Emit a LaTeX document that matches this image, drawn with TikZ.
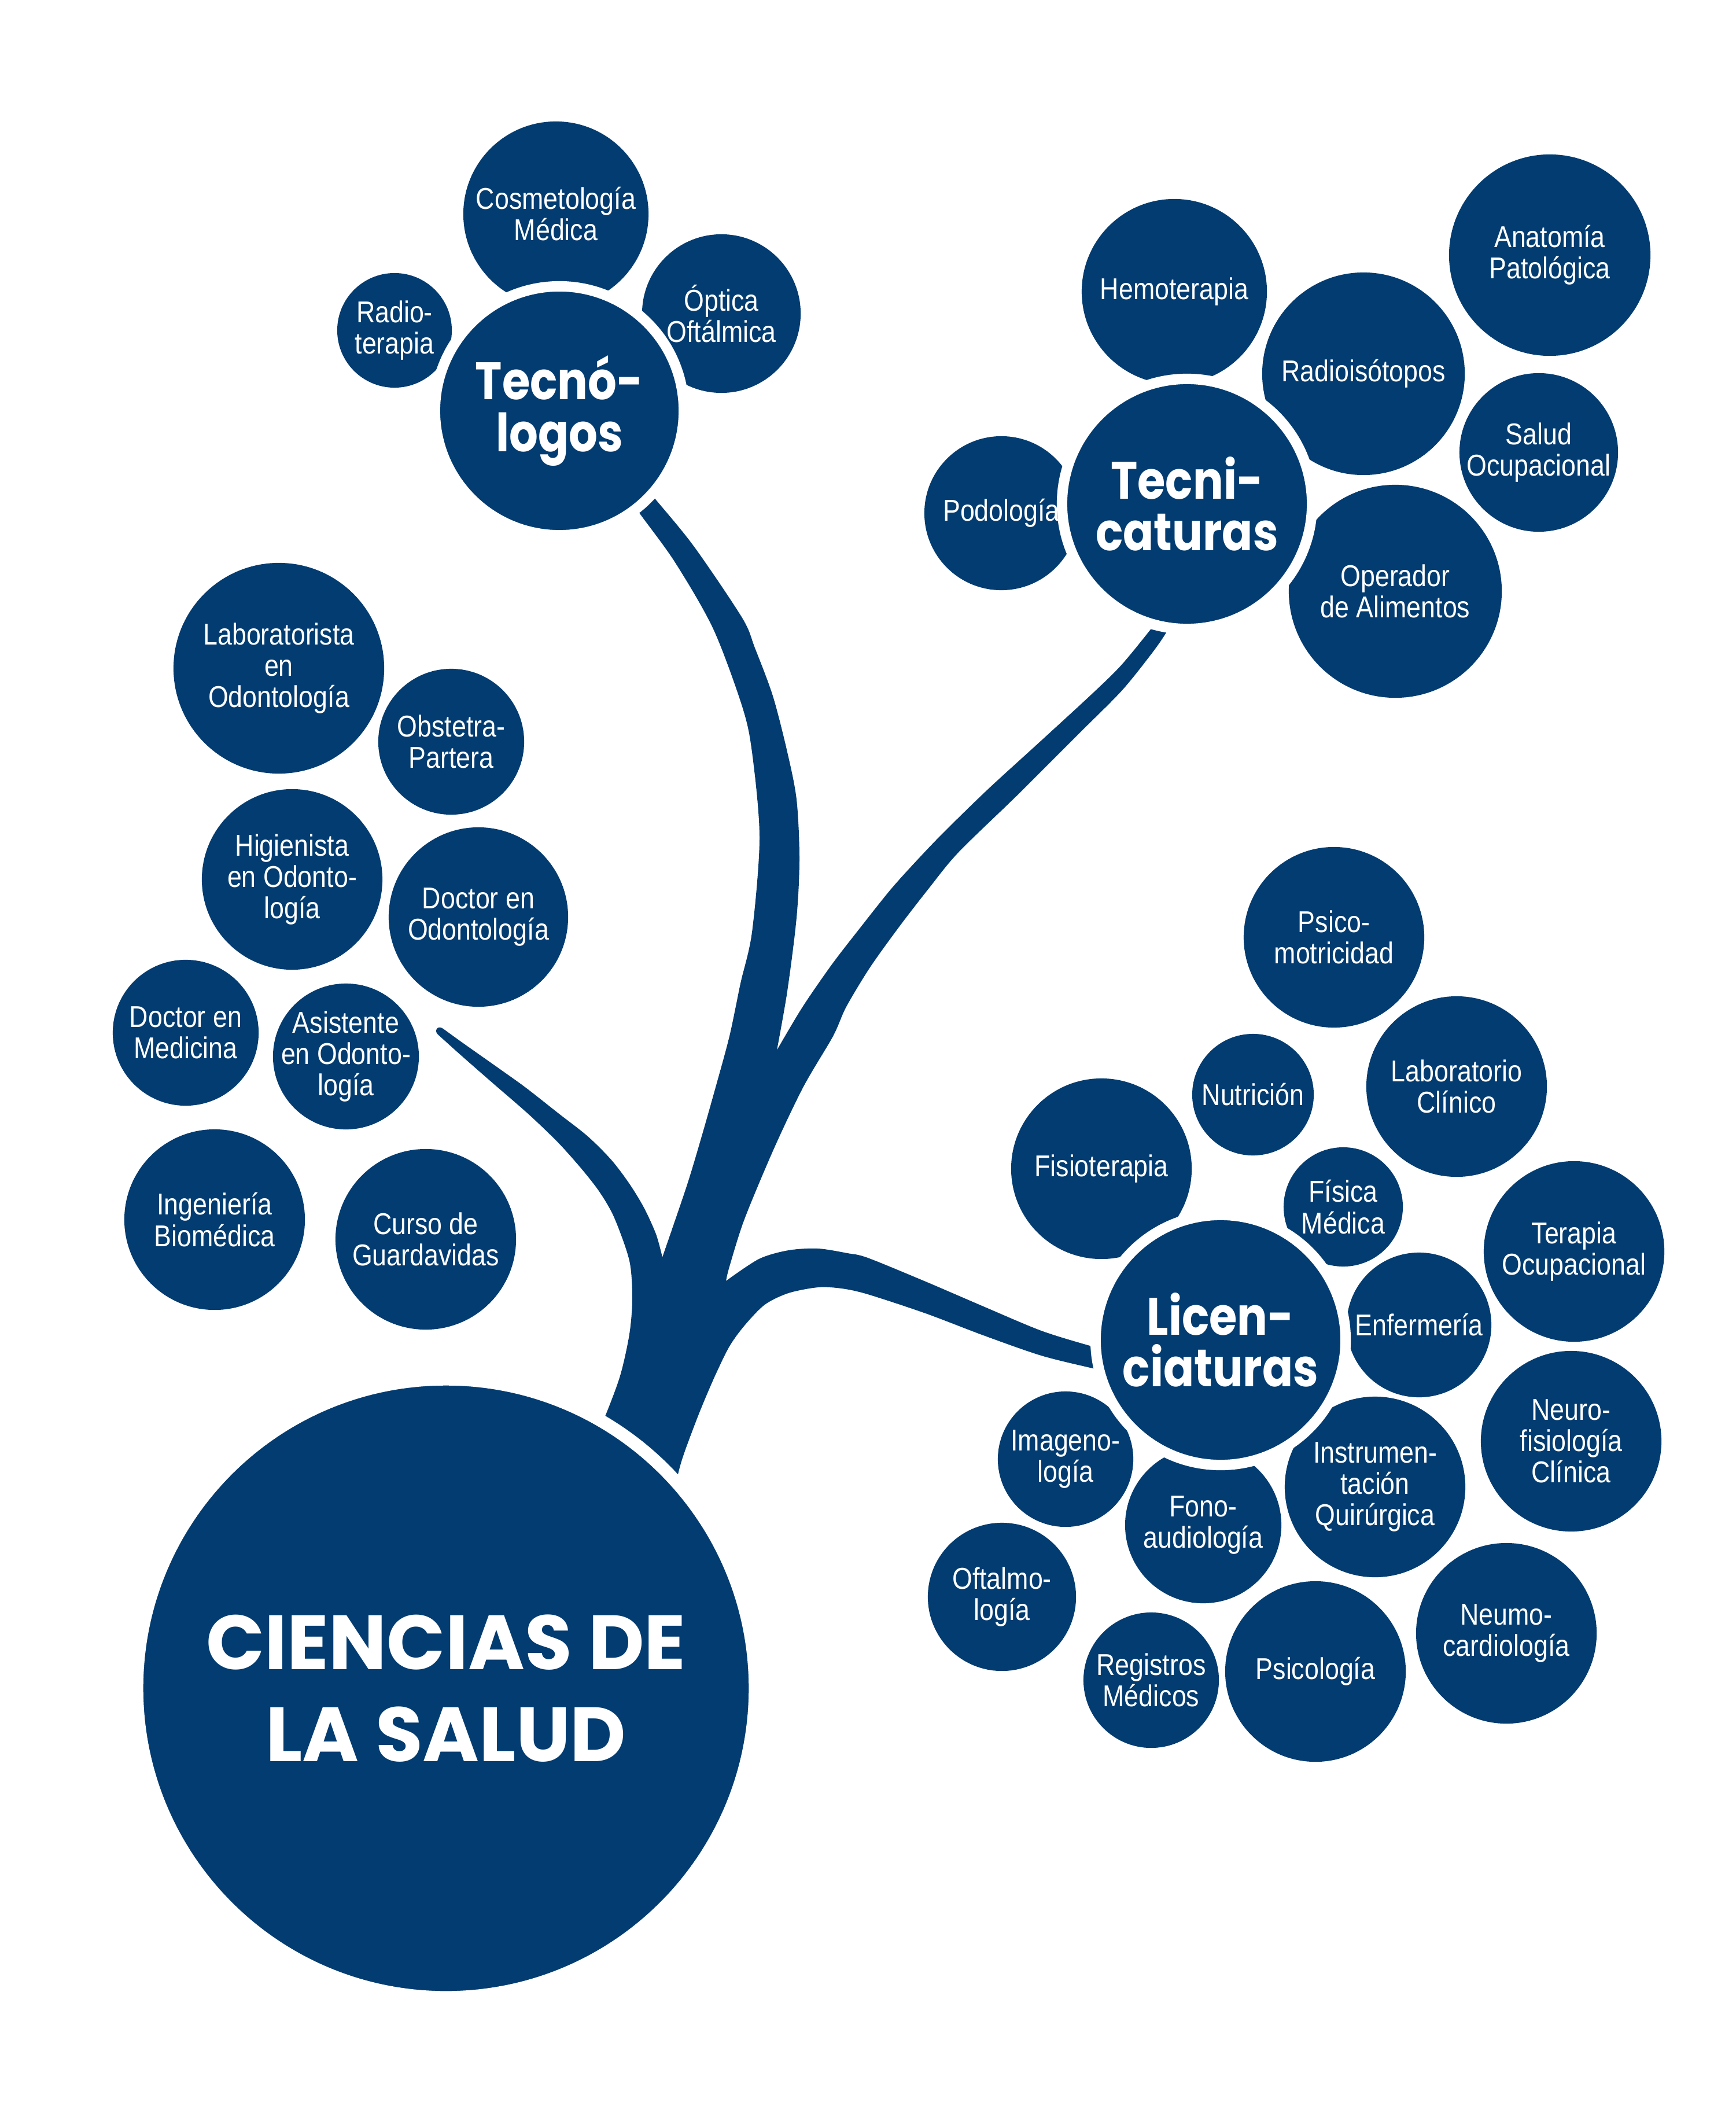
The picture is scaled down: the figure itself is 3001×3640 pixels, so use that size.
\documentclass[tikz,border=0pt]{standalone}
\usepackage{fontspec}
\newfontfamily\lblfont{Liberation Sans}[FakeStretch=0.86]
\newfontfamily\hubfont{Poppins}[FakeStretch=0.86]
\newfontfamily\rootfont{Poppins}
\definecolor{navy}{HTML}{023C71}
\tikzset{
  bub/.style={circle, fill=navy, inner sep=0pt},
  lbl/.style={text=white, inner sep=0pt, align=center,
    font=\lblfont\fontsize{14.8pt}{15.4pt}\selectfont},
  hub/.style={circle, fill=navy, draw=white, line width=0.18cm, text=white, inner sep=0pt, align=center,
    font=\hubfont\bfseries\fontsize{25.9pt}{25.5pt}\selectfont},
  root/.style={circle, fill=navy, draw=white, line width=0.22cm, text=white, inner sep=0pt, align=center,
    font=\rootfont\bfseries\fontsize{37.8pt}{45.2pt}\selectfont},
  edge/.style={smooth, tension=0.5}
}
\newcommand{\bubble}[5]{%
  \node[bub, minimum size=#4cm] (#1) at (#2,#3) {};
  \node[lbl] (#1-t) at (#1) {#5};}
\begin{document}
\begin{tikzpicture}[x=0.01cm, y=-0.01cm]
\fill[white] (0,0) rectangle (3001,3640);
\useasboundingbox (0,0) rectangle (3001,3640);

% tree
\fill[navy]
 plot[edge] coordinates {(1030,2480) (1046,2448) (1072,2378) (1088,2306) (1093,2245) (1088,2179) (1062,2105) (1037,2061) (1006,2021) (965,1975) (914,1926) (853,1873) (797,1824) (757,1788)}
 .. controls (750,1782) and (756,1771) .. (766,1778)
 -- plot[edge] coordinates {(766,1778) (802,1804) (863,1847) (909,1880) (965,1924) (1016,1964) (1057,2005) (1088,2046) (1113,2087) (1134,2133) (1145,2173)}
 -- plot[edge] coordinates {(1145,2173) (1164,2118) (1190,2041) (1213,1964) (1236,1883) (1261,1791) (1280,1700) (1300,1611) (1313,1448) (1300,1300) (1283,1221) (1233,1087) (1167,972) (1107,889) (1080,850)}
 -- plot[edge] coordinates {(1105,830) (1134,864) (1200,945) (1283,1068) (1305,1120) (1336,1203) (1361,1300) (1377,1382) (1382,1484) (1377,1586) (1361,1713) (1343,1815)}
 -- plot[edge] coordinates {(1343,1815) (1387,1741) (1438,1667) (1489,1601) (1540,1537) (1586,1486) (1632,1438) (1708,1364) (1800,1280) (1887,1200) (1938,1150) (1989,1088) (2010,1060)}
 -- plot[edge] coordinates {(2030,1065) (2015,1095) (1989,1132) (1938,1195) (1861,1272) (1759,1374) (1657,1473) (1606,1535) (1555,1601) (1504,1672) (1463,1740) (1440,1791) (1389,1878) (1338,1985) (1287,2107) (1261,2189) (1255,2214)}
 -- plot[edge] coordinates {(1255,2214) (1312,2176) (1363,2161) (1414,2158) (1465,2166) (1500,2174) (1600,2215) (1700,2258) (1800,2300) (1884,2326) (1920,2335)}
 -- plot[edge] coordinates {(1925,2373) (1889,2365) (1800,2343) (1700,2308) (1600,2270) (1500,2237) (1455,2227) (1414,2225) (1363,2235) (1322,2255) (1287,2291) (1261,2327) (1236,2378) (1210,2439) (1185,2505) (1174,2540) (1160,2600)}
 -- cycle;

% Tecnologos cluster
\bubble{cosm}{961}{370}{3.20}{Cosmetología\\Médica}
\bubble{radio}{682}{571}{1.98}{Radio-\\terapia}
\bubble{optica}{1247}{542}{2.74}{Óptica\\Oftálmica}

% Tecnicaturas cluster
\bubble{hemo}{2030}{504}{3.20}{Hemoterapia}
\bubble{radioiso}{2357}{646}{3.50}{Radioisótopos}
\bubble{anat}{2679}{441}{3.48}{Anatomía\\Patológica}
\bubble{salud}{2660}{782}{2.74}{Salud\\Ocupacional}
\bubble{oper}{2412}{1022}{3.68}{Operador\\de Alimentos}
\bubble{podo}{1731}{887}{2.66}{Podología}

% left cluster
\bubble{labodo}{482}{1155}{3.64}{Laboratorista\\en\\Odontología}
\bubble{obst}{780}{1282}{2.52}{Obstetra-\\Partera}
\bubble{higi}{505}{1520}{3.12}{Higienista\\en Odonto-\\logía}
\bubble{docodo}{827}{1585}{3.10}{Doctor en\\Odontología}
\bubble{docmed}{321}{1785}{2.52}{Doctor en\\Medicina}
\bubble{asis}{598}{1826}{2.52}{Asistente\\en Odonto-\\logía}
\bubble{ingbio}{371}{2108}{3.12}{Ingeniería\\Biomédica}
\bubble{curso}{736}{2142}{3.12}{Curso de\\Guardavidas}

% Licenciaturas cluster
\bubble{psicomot}{2306}{1620}{3.12}{Psico-\\motricidad}
\bubble{nutri}{2166}{1892}{2.10}{Nutrición}
\bubble{labclin}{2518}{1878}{3.12}{Laboratorio\\Clínico}
\bubble{fisio}{1904}{2020}{3.12}{Fisioterapia}
\bubble{fismed}{2322}{2086}{2.06}{Física\\Médica}
\bubble{terocu}{2721}{2163}{3.12}{Terapia\\Ocupacional}
\bubble{enfer}{2453}{2290}{2.50}{Enfermería}
\bubble{neurofis}{2716}{2491}{3.12}{Neuro-\\fisiología\\Clínica}
\bubble{imag}{1842}{2522}{2.34}{Imageno-\\logía}
\bubble{fono}{2080}{2636}{2.70}{Fono-\\audiología}
\bubble{instr}{2377}{2570}{3.12}{Instrumen-\\tación\\Quirúrgica}
\bubble{oftal}{1732}{2760}{2.56}{Oftalmo-\\logía}
\bubble{regis}{1990}{2904}{2.34}{Registros\\Médicos}
\bubble{psicol}{2274}{2889}{3.12}{Psicología}
\bubble{neumo}{2604}{2823}{3.12}{Neumo-\\cardiología}

% hubs
\node[hub, minimum size=4.30cm] (tecno) at (967,710) {Tecnó-\\logos};
\node[hub, minimum size=4.32cm] (tecni) at (2052,871) {Tecni-\\caturas};
\node[hub, minimum size=4.32cm] (lic) at (2110,2316) {Licen-\\ciaturas};

% root
\node[root, minimum size=10.68cm] (rootc) at (771,2918) {CIENCIAS DE\\LA SALUD};
\end{tikzpicture}
\end{document}
